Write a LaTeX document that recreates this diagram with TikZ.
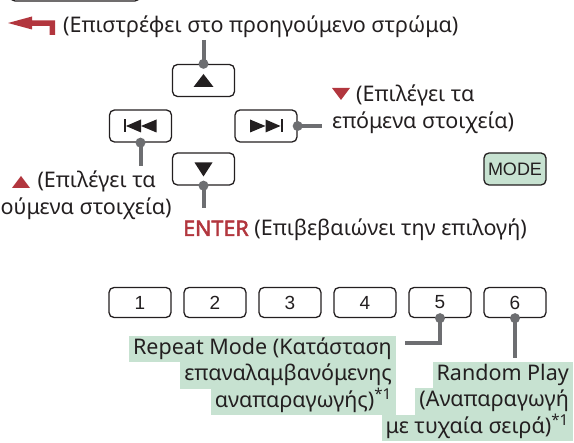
\documentclass[tikz,border=0pt]{standalone}
\usepackage{fontspec}
\setmainfont{Noto Sans}
\newfontfamily\keyfont{Liberation Sans}
\newfontfamily\enterfont{Noto Sans}[FakeBold=2.2]
\definecolor{keyline}{RGB}{35,31,32}
\definecolor{pingray}{RGB}{109,110,113}
\definecolor{hlred}{RGB}{178,54,62}
\definecolor{hlgreen}{RGB}{199,226,209}
\tikzset{
  key/.style={draw=keyline, line width=1.3pt, rounded corners=5pt, minimum width=62pt, minimum height=32pt, inner sep=0pt},
  numkey/.style={key, minimum height=30pt, font=\keyfont\fontsize{19}{19}\selectfont, text=keyline},
  lbl/.style={inner sep=0pt, text=keyline, font=\fontsize{21.5}{21.5}\selectfont},
  hl/.style={lbl, fill=hlgreen, inner xsep=4pt, inner ysep=3pt, text height=15.5pt, text depth=5pt},
  pin/.style={draw=pingray, line width=4pt},
  glyph/.style={fill=keyline},
}

\begin{document}
\begin{tikzpicture}[x=1pt, y=-1pt]
	\useasboundingbox (0,0) rectangle (574,443);
	% key cut off at the top
	\draw[keyline, line width=1.3pt, rounded corners=5pt] (10,-20) rectangle (140,1);
	\fill[hlred] (8,23) -- (32,16.5) -- (32,20.5) -- (55,20.5) -- (55,35) -- (49.5,35) -- (49.5,26) -- (32,26) -- (32,29.5) -- cycle;
	\node[lbl, anchor=base west] (backtxt) at (63,33) {(Επιστρέφει στο προηγούμενο στρώμα)};
	% cursor keys
	\node[key] (up) at (203.5,80.5) {};
	\node[key] (prev) at (140.5,126) {};
	\node[key] (next) at (266,126) {};
	\node[key] (down) at (203.5,169) {};
	\node[key, fill=hlgreen, font=\keyfont\fontsize{18}{18}\selectfont, text=keyline] (mode) at (515,169) {MODE};
	\fill[glyph] (up.center) ++(0,-6.5) -- ++(10,13) -- ++(-20,0) -- cycle;
	\fill[glyph] (down.center) ++(0,7.5) -- ++(9,-14) -- ++(-18,0) -- cycle;
	\fill[glyph] (prev.center) ++(-17,-6.5) rectangle ++(2.5,13);
	\fill[glyph] (prev.center) ++(-14.5,0) -- ++(15,-6.5) -- ++(0,13) -- cycle;
	\fill[glyph] (prev.center) ++(0.5,0) -- ++(15.5,-6.5) -- ++(0,13) -- cycle;
	\fill[glyph] (next.center) ++(17,-6.5) rectangle ++(-2.5,13);
	\fill[glyph] (next.center) ++(14.5,0) -- ++(-15,-6.5) -- ++(0,13) -- cycle;
	\fill[glyph] (next.center) ++(-0.5,0) -- ++(-15.5,-6.5) -- ++(0,13) -- cycle;
	% pins
	\coordinate (upend) at (203.5,40);
	\coordinate (prevend) at (140.5,166);
	\coordinate (nextend) at (322,126);
	\coordinate (downend) at (203.5,208);
	\draw[pin] (upend) -- (up.north);
	\draw[pin] (prev.south) -- (prevend);
	\draw[pin] (next.east) -- (nextend);
	\draw[pin] (down.south) -- (downend);
	\foreach \k in {up.north, prev.south, next.east, down.south}
		\fill[pingray] (\k) circle (5pt);
	% labels
	\fill[hlred] (332,88) -- (350,88) -- (341,100) -- cycle;
	\node[lbl, anchor=base west] (nexttxt) at (356,102) {(Επιλέγει τα};
	\node[lbl, anchor=base west] (nexttxtb) at (332,129) {επόμενα στοιχεία)};
	\fill[hlred] (12,188) -- (30,188) -- (21,176) -- cycle;
	\node[lbl, anchor=base east] (prevtxt) at (156,188) {(Επιλέγει τα};
	\node[lbl, anchor=base west] (prevtxtb) at (0.5,215) {ούμενα στοιχεία)};
	\node[lbl, anchor=base west] (entertxt) at (183,236) {\textcolor{hlred}{\enterfont ENTER} (Επιβεβαιώνει την επιλογή)};
	% number keys
	\foreach \n in {1,...,6}
		\node[numkey] (k\n) at ({140+75*(\n-1)},302.5) {\n};
	\coordinate (k5end) at (405,343);
	\coordinate (k6end) at (515,358);
	\draw[pin] (k5.south) |- (k5end);
	\draw[pin] (k6.south) -- (k6end);
	\fill[pingray] (k5.south) circle (5pt);
	\fill[pingray] (k6.south) circle (5pt);
	\node[hl, anchor=base east] (rpta) at (396,354.5) {Repeat Mode (Κατάσταση};
	\node[hl, anchor=base east] (rptb) at (396,381) {επαναλαμβανόμενης};
	\node[hl, anchor=base east] (rptc) at (396,407.5) {αναπαραγωγής)\textsuperscript{*1}};
	\node[hl, anchor=base east] (rnda) at (573,380.5) {Random Play};
	\node[hl, anchor=base east] (rndb) at (573,407) {(Αναπαραγωγή};
	\node[hl, anchor=base east] (rndc) at (573,433.5) {με τυχαία σειρά)\textsuperscript{*1}};
\end{tikzpicture}
\end{document}
